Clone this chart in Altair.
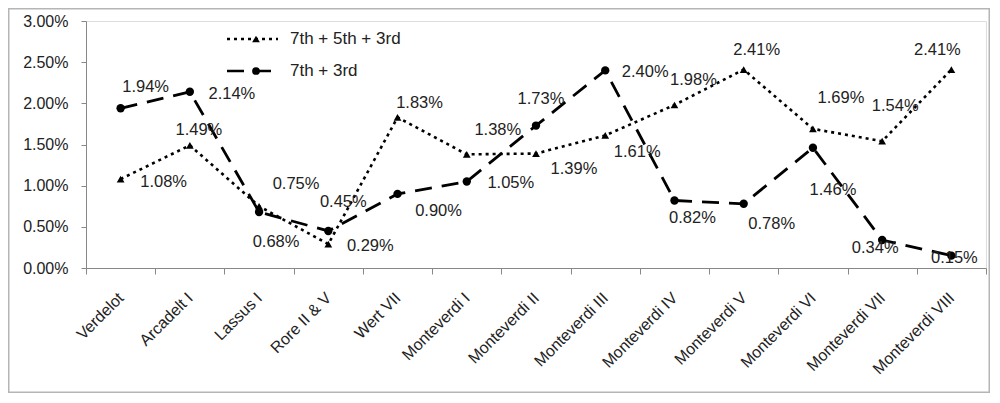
import altair as alt
import pandas as pd

categories = ["Verdelot", "Arcadelt I", "Lassus I", "Rore II & V", "Wert VII",
              "Monteverdi I", "Monteverdi II", "Monteverdi III", "Monteverdi IV",
              "Monteverdi V", "Monteverdi VI", "Monteverdi VII", "Monteverdi VIII"]
series_a_name = "7th + 5th + 3rd"
series_b_name = "7th + 3rd"
values_a = [1.08, 1.49, 0.75, 0.29, 1.83, 1.38, 1.39, 1.61, 1.98, 2.41, 1.69, 1.54, 2.41]
values_b = [1.94, 2.14, 0.68, 0.45, 0.90, 1.05, 1.73, 2.40, 0.82, 0.78, 1.46, 0.34, 0.15]
y_ticks = [0.0, 0.5, 1.0, 1.5, 2.0, 2.5, 3.0]

# label offsets (pixels) for the data labels
label_dx_a = [43, 9, 37, 42, 22, 31, 38, 32, 19, 13, 28, 13, -14]
label_dy_a = [3, -15, -22, 2, -14, -24, 15, 17, -25, -20, -31, -35, -20]
label_dx_b = [25, 42, 17, 15, 41, 44, 5, 40, 18, 28, 20, -7, 3]
label_dy_b = [-21, 2, 30, -29, 17, 1, -27, 2, 18, 20, 42, 8, 2]

W, H = 900, 247
FONT = "Liberation Sans"

df_a = pd.DataFrame({"cat": categories, "v": [v / 100 for v in values_a], "s": series_a_name})
df_b = pd.DataFrame({"cat": categories, "v": [v / 100 for v in values_b], "s": series_b_name})

x_enc = alt.X("cat:N", sort=categories, bandPosition=0.5,
              scale=alt.Scale(type="band", paddingInner=0, paddingOuter=0),
              axis=alt.Axis(title=None, tickBand="extent", labelAngle=-45,
                            labelAlign="right", labelBaseline="middle",
                            labelFontSize=16, labelFont=FONT, labelColor="#222",
                            labelPadding=21, labelOffset=0,
                            tickSize=6, tickColor="#888", domainColor="#888",
                            labelOverlap=False))
y_enc = alt.Y("v:Q", scale=alt.Scale(domain=[0, 0.03], nice=False),
              axis=alt.Axis(title=None, values=[t / 100 for t in y_ticks], format=".2%",
                            labelFontSize=16, labelFont=FONT, labelColor="#222",
                            labelPadding=13, tickSize=5, tickColor="#888",
                            domainColor="#888", grid=False))

line_a = alt.Chart(df_a).mark_line(color="black", strokeWidth=2.6, strokeDash=[3, 4]).encode(x=x_enc, y=y_enc)
pts_a = alt.Chart(df_a).mark_point(shape="triangle-up", filled=True, color="black", size=60, opacity=1).encode(x=x_enc, y=y_enc)
line_b = alt.Chart(df_b).mark_line(color="black", strokeWidth=2.8, strokeDash=[17, 10]).encode(x=x_enc, y=y_enc)
pts_b = alt.Chart(df_b).mark_point(shape="circle", filled=True, color="black", size=70, opacity=1).encode(x=x_enc, y=y_enc)

layers = [line_a, line_b, pts_a, pts_b]

for df, dxs, dys in [(df_a, label_dx_a, label_dy_a), (df_b, label_dx_b, label_dy_b)]:
    for i in range(len(categories)):
        row = df.iloc[[i]]
        layers.append(
            alt.Chart(row).mark_text(dx=dxs[i], dy=dys[i], fontSize=16.5, font=FONT, color="#222")
            .encode(x=x_enc, y=y_enc, text=alt.Text("v:Q", format=".2%"))
        )

# legend
leg_rows = [(series_a_name, [3, 4], "triangle-up", 18), (series_b_name, [17, 10], "circle", 50)]
for name, dash, shape, ly in leg_rows:
    ld = pd.DataFrame({"name": [name]})
    layers.append(alt.Chart(ld).mark_rule(color="black", strokeWidth=2.6, strokeDash=dash)
                  .encode(x=alt.value(141), x2=alt.value(192), y=alt.value(ly)))
    layers.append(alt.Chart(ld).mark_point(shape=shape, filled=True, color="black", size=60, opacity=1)
                  .encode(x=alt.value(170), y=alt.value(ly)))
    layers.append(alt.Chart(ld).mark_text(align="left", baseline="middle", fontSize=17, font=FONT, color="#222")
                  .encode(x=alt.value(204), y=alt.value(ly), text="name:N"))

# outer border
border = alt.Chart(pd.DataFrame({"b": [0]})).mark_rect(fill=None, stroke="#b5b5b5", strokeWidth=1.5).encode(
    x=alt.value(-77.25), x2=alt.value(W + 3.25), y=alt.value(-12.25), y2=alt.value(H + 124.25))
layers.append(border)

chart = alt.layer(*layers).properties(
    width=W, height=H,
    autosize=alt.AutoSizeParams(type="none"),
    padding={"left": 78, "top": 13, "right": 4, "bottom": 125},
).configure_view(stroke=None).configure(background="white")

chart.save("out.html", embed_options={"renderer": "svg", "actions": False})
